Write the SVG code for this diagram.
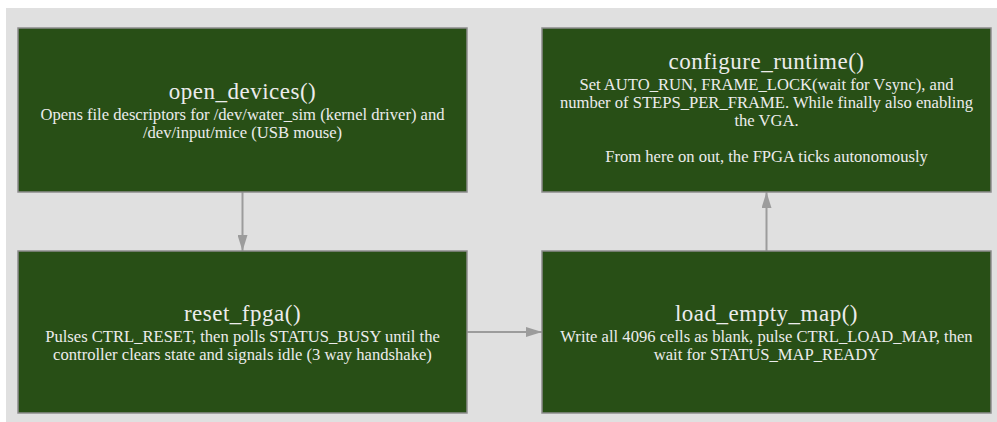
<svg xmlns="http://www.w3.org/2000/svg" width="997" height="422" viewBox="0 0 997 422">
<defs>
<style>
.box{fill:#284f16;stroke:#8c8c8c;stroke-width:1.5}
.t{font-family:"Liberation Serif","Times New Roman",serif;fill:#ececec;text-anchor:middle}
.title{font-size:23px;letter-spacing:0.5px}
.body{font-size:16.6px}
.edge{stroke:#9c9c9c;stroke-width:2;fill:none;marker-end:url(#ah)}
</style>
<marker id="ah" markerUnits="userSpaceOnUse" markerWidth="16" markerHeight="10" refX="16" refY="5" orient="auto">
<path d="M0,0 L16,5 L0,10 Z" fill="#9c9c9c"/>
</marker>
</defs>
<rect x="0" y="0" width="997" height="422" fill="#ffffff"/>
<rect x="6" y="8" width="991" height="414" fill="#e0e0e0"/>
<g id="connectors">
<path class="edge" d="M242.5,192 L242.5,251"/>
<path class="edge" d="M467,332 L542,332"/>
<path class="edge" d="M766.5,251 L766.5,192"/>
</g>
<g id="open_devices">
<rect class="box" x="18" y="28" width="449" height="164"/>
<text class="t title" x="242.5" y="99">open_devices()</text>
<text class="t body" x="242.5" y="120">Opens file descriptors for /dev/water_sim (kernel driver) and</text>
<text class="t body" x="242.5" y="138">/dev/input/mice (USB mouse)</text>
</g>
<g id="configure_runtime">
<rect class="box" x="542" y="28" width="449" height="164"/>
<text class="t title" x="766.5" y="69">configure_runtime()</text>
<text class="t body" x="766.5" y="90">Set AUTO_RUN, FRAME_LOCK(wait for Vsync), and</text>
<text class="t body" x="766.5" y="108">number of STEPS_PER_FRAME. While finally also enabling</text>
<text class="t body" x="766.5" y="126">the VGA.</text>
<text class="t body" x="766.5" y="162">From here on out, the FPGA ticks autonomously</text>
</g>
<g id="reset_fpga">
<rect class="box" x="18" y="251" width="449" height="162"/>
<text class="t title" x="242.5" y="321">reset_fpga()</text>
<text class="t body" x="242.5" y="342">Pulses CTRL_RESET, then polls STATUS_BUSY until the</text>
<text class="t body" x="242.5" y="360">controller clears state and signals idle (3 way handshake)</text>
</g>
<g id="load_empty_map">
<rect class="box" x="542" y="251" width="449" height="162"/>
<text class="t title" x="766.5" y="321">load_empty_map()</text>
<text class="t body" x="766.5" y="342">Write all 4096 cells as blank, pulse CTRL_LOAD_MAP, then</text>
<text class="t body" x="766.5" y="360">wait for STATUS_MAP_READY</text>
</g>
</svg>
